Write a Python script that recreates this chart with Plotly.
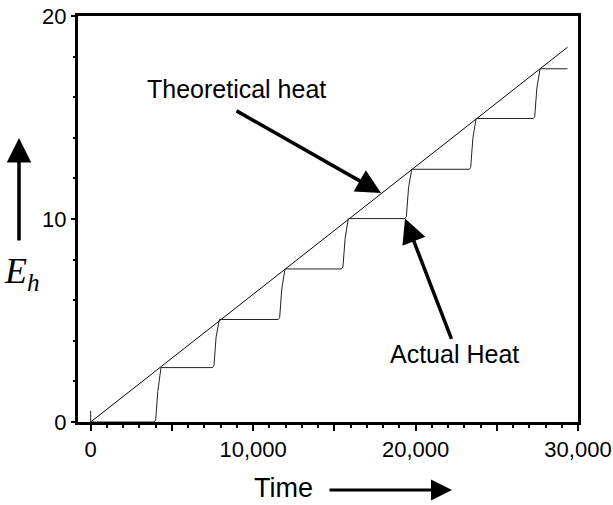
import plotly.graph_objects as go

# Theoretical heat (straight line)
theo_time = [0, 29350]
theo_heat = [0, 18.46]

# Actual heat (step response)
actual_time = [0, 0, 3910, 4000, 4040, 4130, 4330,
               7500, 7590, 7630, 7720, 7920,
               11544, 11634, 11674, 11764, 11964,
               15442, 15532, 15572, 15662, 15862,
               19346, 19436, 19476, 19566, 19766,
               23305, 23395, 23435, 23525, 23725,
               27247, 27337, 27377, 27467, 27667,
               29350]
actual_heat = [0.55, 0, 0, 0.1, 0.5, 1.5, 2.68,
               2.68, 2.78, 3.18, 4.18, 5.05,
               5.05, 5.15, 5.55, 6.55, 7.54,
               7.54, 7.64, 8.04, 9.04, 10.02,
               10.02, 10.12, 10.52, 11.52, 12.45,
               12.45, 12.55, 12.95, 13.95, 14.95,
               14.95, 15.05, 15.45, 16.45, 17.40,
               17.40]

x_tickvals = [0, 5000, 10000, 15000, 20000, 25000, 30000]
x_ticktext = ["0", "", "10,000", "", "20,000", "", "30,000"]
y_tickvals = [0, 10, 20]
y_ticktext = ["0", "10", "20"]

fig = go.Figure()
fig.add_trace(go.Scatter(x=theo_time, y=theo_heat, mode="lines",
                         line=dict(color="black", width=1), showlegend=False))
fig.add_trace(go.Scatter(x=actual_time, y=actual_heat, mode="lines",
                         line=dict(color="#222", width=1), showlegend=False))

font_main = "Liberation Sans, Arial, sans-serif"

fig.update_layout(
    width=613, height=505,
    margin=dict(l=78, r=35, t=16, b=83),
    paper_bgcolor="white", plot_bgcolor="white",
    font=dict(family=font_main, color="black", size=22),
    xaxis=dict(range=[-780, 30000], showgrid=False, zeroline=False, automargin=False,
               showline=True, linewidth=3, linecolor="black", mirror=True,
               ticks="outside", ticklen=6, tickwidth=2, tickcolor="black",
               tickvals=x_tickvals, ticktext=x_ticktext,
               tickfont=dict(size=22),
               minor=dict(dtick=1000, ticks="outside", ticklen=3, tickwidth=1.5, tickcolor="black")),
    yaxis=dict(range=[0, 20], showgrid=False, zeroline=False, automargin=False,
               showline=True, linewidth=3, linecolor="black", mirror=True,
               ticks="outside", ticklen=4, tickwidth=2, tickcolor="black",
               tickvals=y_tickvals, ticktext=y_ticktext,
               tickfont=dict(size=22),
               minor=dict(dtick=2, ticks="outside", ticklen=2, tickwidth=1.5, tickcolor="black")),
)

annos = [
    dict(x=0.316, y=0.82, xref="paper", yref="paper", text="Theoretical heat",
         showarrow=False, font=dict(size=25), xanchor="center", yanchor="middle"),
    dict(x=0.752, y=0.1675, xref="paper", yref="paper", text="Actual Heat",
         showarrow=False, font=dict(size=25), xanchor="center", yanchor="middle"),
    dict(x=0.41, y=-0.1626, xref="paper", yref="paper", text="Time",
         showarrow=False, font=dict(size=27), xanchor="center", yanchor="middle"),
    dict(x=-0.152, y=0.425, xref="paper", yref="paper", text="<i>E<sub>h</sub></i>",
         showarrow=False, font=dict(size=36, family="Liberation Serif, Times New Roman, serif"),
         xanchor="left", yanchor="top"),
    # arrows
    dict(x=17876, y=11.28, xref="x", yref="y", text="", showarrow=True,
         ax=-146, ay=-83, arrowhead=2, arrowsize=1.4, arrowwidth=3.5, arrowcolor="black"),
    dict(x=19353, y=10.03, xref="x", yref="y", text="", showarrow=True,
         ax=47, ay=122, arrowhead=2, arrowsize=1.4, arrowwidth=3.5, arrowcolor="black"),
    dict(x=0.748, y=-0.1675, xref="paper", yref="paper", text="", showarrow=True,
         ax=-124, ay=0, arrowhead=2, arrowsize=1.4, arrowwidth=3, arrowcolor="black"),
    dict(x=-0.118, y=0.6995, xref="paper", yref="paper", text="", showarrow=True,
         ax=0, ay=104, arrowhead=2, arrowsize=1.4, arrowwidth=3.5, arrowcolor="black"),
]
fig.update_layout(annotations=annos)

fig.write_html("out.html")
